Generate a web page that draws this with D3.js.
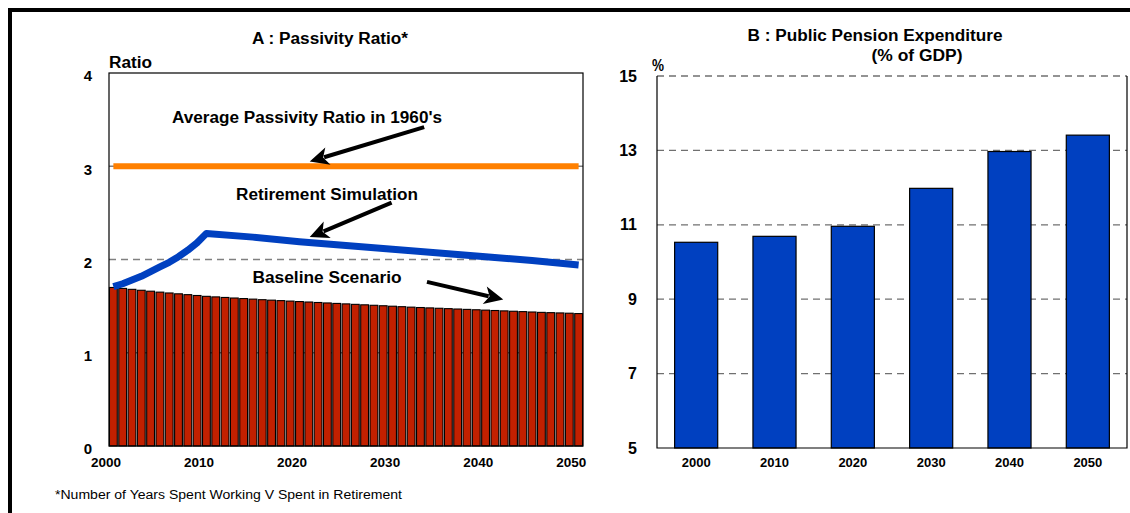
<!DOCTYPE html>
<html><head><meta charset="utf-8">
<script src="https://cdn.jsdelivr.net/npm/d3@7"></script>
<style>body{margin:0;background:#fff}svg{display:block;font-family:"Liberation Sans",Arial,sans-serif}</style>
</head><body><svg id="c" width="1130" height="513"></svg>
<script>
// ---------- DATA ----------
const years = [2000,2001,2002,2003,2004,2005,2006,2007,2008,2009,
               2010,2011,2012,2013,2014,2015,2016,2017,2018,2019,
               2020,2021,2022,2023,2024,2025,2026,2027,2028,2029,
               2030,2031,2032,2033,2034,2035,2036,2037,2038,2039,
               2040,2041,2042,2043,2044,2045,2046,2047,2048,2049,2050];
const baseline = [1.700,1.690,1.680,1.670,1.660,1.650,1.641,1.632,1.623,1.614,
                  1.605,1.599,1.593,1.587,1.581,1.575,1.569,1.564,1.559,1.554,
                  1.549,1.544,1.539,1.534,1.529,1.524,1.519,1.514,1.509,1.504,
                  1.499,1.494,1.489,1.485,1.481,1.477,1.473,1.469,1.465,1.461,
                  1.457,1.453,1.449,1.445,1.441,1.437,1.433,1.430,1.427,1.424,1.420];
const simYears  = [2000,2001,2002,2003,2004,2005,2006,2007,2008,2009,2010,2015,2020,2025,2030,2035,2040,2045,2050];
const simValues = [1.71,1.74,1.78,1.82,1.87,1.92,1.97,2.03,2.10,2.18,2.28,2.24,2.19,2.15,2.11,2.07,2.03,1.99,1.94];
const avgYears  = [2000,2050];
const avgValues = [3.0,3.0];
const leftTicks = [0,1,2,3,4];
const leftGrid  = [1,2,3];
const leftXLabels = [2000,2010,2020,2030,2040,2050];

const pensionYears  = ["2000","2010","2020","2030","2040","2050"];
const pensionValues = [10.53,10.69,10.96,11.98,12.97,13.41];
const rightTicks = [5,7,9,11,13,15];
const rightGrid  = [7,9,11,13,15];

// annotation arrows in data units: [fromYear, fromValue, toYear, toValue]
const arrows = [
  [2033.4,3.42,2021.1,3.05],
  [2029.9,2.61,2021.1,2.24],
  [2033.7,1.76,2041.9,1.57]
];

// ---------- DRAW ----------
const svg = d3.select("#c");
const FONT = '"Liberation Sans",Arial,sans-serif';

function label(g, x, y, str, size, width, anchor, bold){
  const t = g.append("text").attr("x",x).attr("y",y).attr("font-size",size)
    .attr("text-anchor",anchor||"start").attr("font-weight",bold===false?"normal":"bold").attr("fill","#000").text(str);
  if (width) t.attr("textLength",width).attr("lengthAdjust","spacingAndGlyphs");
  return t;
}

// outer frame
svg.append("line").attr("x1",8).attr("x2",1130).attr("y1",10).attr("y2",10).attr("stroke","#000").attr("stroke-width",4);
svg.append("line").attr("x1",10).attr("x2",10).attr("y1",8).attr("y2",513).attr("stroke","#000").attr("stroke-width",4);

// ===== Left panel =====
const L = {left:109,right:583,top:73,bottom:446};
const x = d3.scaleBand().domain(years).range([L.left,L.right]).paddingInner(0.16).paddingOuter(0.05);
const xc = d3.scaleLinear().domain([2000,2050]).range([x(2000)+x.bandwidth()/2, x(2050)+x.bandwidth()/2]);
const y = d3.scaleLinear().domain([0,4]).range([L.bottom,L.top]);

const gL = svg.append("g");
gL.selectAll(".gl").data(leftGrid).join("line")
  .attr("x1",L.left).attr("x2",L.right).attr("y1",d=>y(d)).attr("y2",d=>y(d))
  .attr("stroke","#808080").attr("stroke-width",1.3).attr("stroke-dasharray","7,5");

gL.selectAll(".bar").data(years).join("rect")
  .attr("x",d=>x(d)).attr("width",x.bandwidth())
  .attr("y",(d,i)=>y(baseline[i])).attr("height",(d,i)=>y(0)-y(baseline[i]))
  .attr("fill","#C22000").attr("stroke","#000").attr("stroke-width",1.1);

// orange line
gL.append("path").datum(avgYears.map((d,i)=>[d,avgValues[i]]))
  .attr("d",d3.line().x(d=>xc(d[0])).y(d=>y(d[1])))
  .attr("fill","none").attr("stroke","#FF8000").attr("stroke-width",6);
// blue line
gL.append("path").datum(simYears.map((d,i)=>[d,simValues[i]]))
  .attr("d",d3.line().x(d=>xc(d[0])).y(d=>y(d[1])))
  .attr("fill","none").attr("stroke","#0040C0").attr("stroke-width",7).attr("stroke-linejoin","round");

// plot border
gL.append("rect").attr("x",L.left).attr("y",L.top).attr("width",L.right-L.left).attr("height",L.bottom-L.top)
  .attr("fill","none").attr("stroke","#000").attr("stroke-width",1.2);

// y axis labels
const ayL = gL.append("g").attr("transform",`translate(${95},3)`)
  .call(d3.axisLeft(y).tickValues(leftTicks).tickSize(0).tickPadding(3).tickFormat(d3.format("d")));
ayL.select(".domain").remove();
ayL.attr("font-family",FONT).attr("font-size",15).attr("font-weight","bold").selectAll("text").attr("fill","#000");

// x axis labels
const xlab = d3.scaleLinear().domain([2000,2050]).range([x(2000)-4, x(2050)-4]);
const axL = gL.append("g").attr("transform",`translate(0,${L.bottom})`)
  .call(d3.axisBottom(xlab).tickValues(leftXLabels).tickSize(0).tickPadding(11).tickFormat(d3.format("d")));
axL.select(".domain").remove();
axL.attr("font-family",FONT).attr("font-size",13.5).attr("font-weight","bold").selectAll("text").attr("fill","#000");

// titles
label(gL,330,44,"A : Passivity Ratio*",16,156,"middle");
label(gL,109,68,"Ratio",16,43);

// annotation labels
label(gL,307,123,"Average Passivity Ratio in 1960's",16,270,"middle");
label(gL,327,200,"Retirement Simulation",16,182,"middle");
label(gL,327,283,"Baseline Scenario",16,149,"middle");

// arrows
function arrow(g,x1,y1,x2,y2){
  const dx=x2-x1, dy=y2-y1, len=Math.hypot(dx,dy), ux=dx/len, uy=dy/len, px=-uy, py=ux;
  const hl=19, hw=9;
  const bx=x2-ux*hl, by=y2-uy*hl;
  g.append("line").attr("x1",x1).attr("y1",y1).attr("x2",bx+ux*4).attr("y2",by+uy*4)
    .attr("stroke","#000").attr("stroke-width",4);
  const nx=x2-ux*(hl-5), ny=y2-uy*(hl-5);
  g.append("path").attr("d",`M${x2},${y2}L${bx+px*hw},${by+py*hw}L${nx},${ny}L${bx-px*hw},${by-py*hw}Z`).attr("fill","#000");
}
arrows.forEach(a=>arrow(gL,xc(a[0]),y(a[1]),xc(a[2]),y(a[3])));

// ===== Right panel =====
const R = {left:657,right:1127,top:76,bottom:448};
const xr = d3.scaleBand().domain(pensionYears).range([R.left,R.right]).paddingInner(0.45).paddingOuter(0.225);
const yr = d3.scaleLinear().domain([5,15]).range([R.bottom,R.top]);
const gR = svg.append("g");

gR.selectAll(".gr").data(rightGrid).join("line")
  .attr("x1",R.left).attr("x2",R.right).attr("y1",d=>yr(d)).attr("y2",d=>yr(d))
  .attr("stroke","#707070").attr("stroke-width",1.3).attr("stroke-dasharray","7,5");

gR.selectAll(".pbar").data(pensionYears).join("rect")
  .attr("x",d=>xr(d)).attr("width",xr.bandwidth())
  .attr("y",(d,i)=>yr(pensionValues[i])).attr("height",(d,i)=>yr(5)-yr(pensionValues[i]))
  .attr("fill","#0040C0").attr("stroke","#000").attr("stroke-width",1.2);

// borders (left, right, bottom)
gR.append("path").attr("d",`M${R.left},${R.top}V${R.bottom}H${R.right}V${R.top}`)
  .attr("fill","none").attr("stroke","#000").attr("stroke-width",1.2);

const ayR = gR.append("g").attr("transform",`translate(${640},0)`)
  .call(d3.axisLeft(yr).tickValues(rightTicks).tickSize(0).tickPadding(3).tickFormat(d3.format("d")));
ayR.select(".domain").remove();
ayR.attr("font-family",FONT).attr("font-size",16).attr("font-weight","bold").selectAll("text").attr("fill","#000");

const axR = gR.append("g").attr("transform",`translate(0,${R.bottom})`)
  .call(d3.axisBottom(xr).tickSize(0).tickPadding(10));
axR.select(".domain").remove();
axR.attr("font-family",FONT).attr("font-size",13).attr("font-weight","bold").selectAll("text").attr("fill","#000");

label(gR,875,41,"B : Public Pension Expenditure",16,255,"middle");
label(gR,917,61,"(% of GDP)",16,91,"middle");
label(gR,652,71,"%",16,12);

// footnote
label(svg,55,499,"*Number of Years Spent Working V Spent in Retirement",12,347,"start",false);
</script></body></html>
